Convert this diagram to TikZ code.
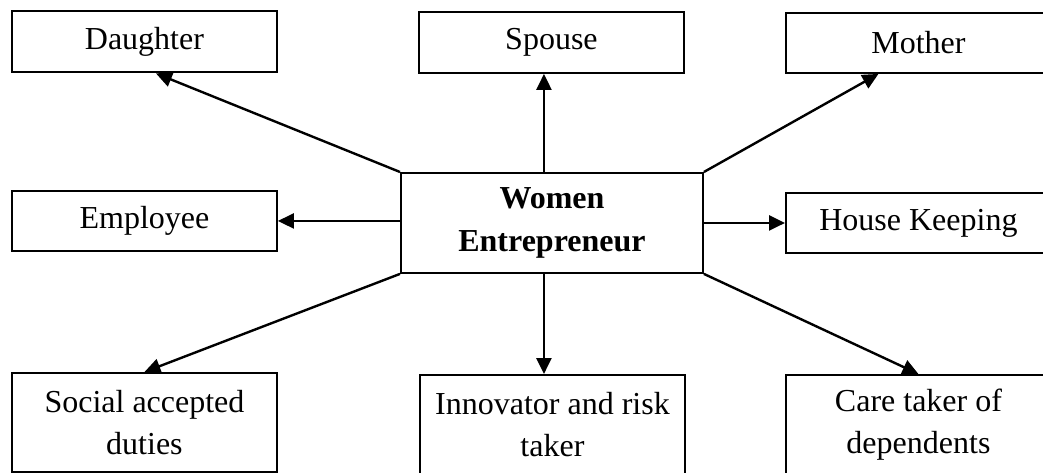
\documentclass[tikz,border=0pt]{standalone}
\usepackage{fontspec}
\setmainfont{Liberation Serif}
\usetikzlibrary{arrows.meta}
\begin{document}
\begin{tikzpicture}[x=1pt,y=-1pt,
  box/.style={draw,line width=1.9pt,rectangle,inner sep=0pt,minimum width=265pt,
    align=center,anchor=north west,font=\fontsize{32pt}{42pt}\selectfont},
  link/.style={line width=2.4pt,-{Triangle[length=16pt,width=15pt]}}]
\useasboundingbox (0,0) rectangle (1043,473);
\clip (0,0) rectangle (1043,473);

% role boxes around the centre
\node[box,minimum height=61pt] (daughter) at (11,10.5) {Daughter};
\node[box,minimum height=61pt] (spouse) at (418,11) {Spouse};
\node[box,minimum height=60pt] (mother) at (785,12) {Mother};
\node[box,minimum height=60pt] (employee) at (11,190) {Employee};
\node[box,minimum height=60pt] (house) at (785,192) {House Keeping};
\node[box,minimum height=99pt] (social) at (11,372) {Social accepted\\duties};
\node[box,minimum height=100.2pt] (innov) at (419,374) {Innovator and risk\\taker};
\node[box,minimum height=100.2pt] (care) at (785,374) {Care taker of\\dependents};

% central box
\node[box,minimum width=302pt,minimum height=100pt,
  font=\fontsize{32pt}{43pt}\selectfont\bfseries] (we) at (400,172) {Women\\Entrepreneur};

% arrows from the centre to each role
\draw[link] (we.north west) -- ([xshift=11.5pt]daughter.south);
\draw[link] ([xshift=-8pt]we.north) -- ([xshift=-7.5pt]spouse.south);
\draw[link] (we.north east) -- ([xshift=-40pt]mother.south);
\draw[link] (we.west |- employee.east) -- (employee.east);
\draw[link] (we.east) -- (we.east -| house.west);
\draw[link] (we.south west) -- (social.north);
\draw[link] ([xshift=-8pt]we.south) -- ([xshift=-8.5pt]innov.north);
\draw[link] (we.south east) -- (care.north);
\end{tikzpicture}
\end{document}
